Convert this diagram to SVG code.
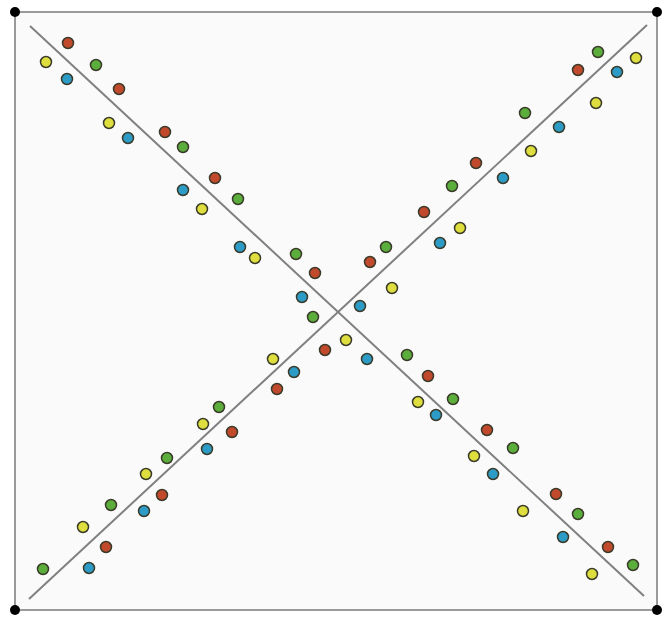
<svg xmlns="http://www.w3.org/2000/svg" width="664" height="622" viewBox="0 0 664 622">
<style>
.frame{fill:#fafafa;stroke:#9a9a9a;stroke-width:2}
.diag{stroke:#808080;stroke-width:2;fill:none}
.corner{fill:#000}
.d{stroke:#3a3a2a;stroke-width:1.5}
.r{fill:#c24a2c}
.g{fill:#5cae3c}
.b{fill:#2c9cc6}
.y{fill:#dede3e}
</style>
<rect width="664" height="622" fill="#ffffff"/>
<rect class="frame" x="15" y="12" width="642" height="598"/>
<g id="diagonals">
<line class="diag" x1="30" y1="26" x2="644" y2="596"/>
<line class="diag" x1="29" y1="599" x2="647" y2="25"/>
</g>
<g id="corners">
<circle class="corner" cx="15" cy="12" r="5"/>
<circle class="corner" cx="657" cy="12" r="5"/>
<circle class="corner" cx="15" cy="610" r="5"/>
<circle class="corner" cx="657" cy="610" r="5"/>
</g>
<g id="dots">
<circle class="d y" cx="46" cy="62" r="5.5"/>
<circle class="d r" cx="68" cy="43" r="5.5"/>
<circle class="d b" cx="67" cy="79" r="5.5"/>
<circle class="d g" cx="96" cy="65" r="5.5"/>
<circle class="d r" cx="119" cy="89" r="5.5"/>
<circle class="d y" cx="109" cy="123" r="5.5"/>
<circle class="d b" cx="128" cy="138" r="5.5"/>
<circle class="d r" cx="165" cy="132" r="5.5"/>
<circle class="d g" cx="183" cy="147" r="5.5"/>
<circle class="d r" cx="215" cy="178" r="5.5"/>
<circle class="d b" cx="183" cy="190" r="5.5"/>
<circle class="d y" cx="202" cy="209" r="5.5"/>
<circle class="d g" cx="238" cy="199" r="5.5"/>
<circle class="d b" cx="240" cy="247" r="5.5"/>
<circle class="d y" cx="255" cy="258" r="5.5"/>
<circle class="d g" cx="296" cy="254" r="5.5"/>
<circle class="d r" cx="315" cy="273" r="5.5"/>
<circle class="d b" cx="302" cy="297" r="5.5"/>
<circle class="d g" cx="313" cy="317" r="5.5"/>

<circle class="d r" cx="370" cy="262" r="5.5"/>
<circle class="d g" cx="386" cy="247" r="5.5"/>
<circle class="d y" cx="392" cy="288" r="5.5"/>
<circle class="d b" cx="360" cy="306" r="5.5"/>
<circle class="d r" cx="424" cy="212" r="5.5"/>
<circle class="d b" cx="440" cy="243" r="5.5"/>
<circle class="d y" cx="460" cy="228" r="5.5"/>
<circle class="d g" cx="452" cy="186" r="5.5"/>
<circle class="d r" cx="476" cy="163" r="5.5"/>
<circle class="d b" cx="503" cy="178" r="5.5"/>
<circle class="d y" cx="531" cy="151" r="5.5"/>
<circle class="d g" cx="525" cy="113" r="5.5"/>
<circle class="d b" cx="559" cy="127" r="5.5"/>
<circle class="d y" cx="596" cy="103" r="5.5"/>
<circle class="d r" cx="578" cy="70" r="5.5"/>
<circle class="d g" cx="598" cy="52" r="5.5"/>
<circle class="d b" cx="617" cy="72" r="5.5"/>
<circle class="d y" cx="636" cy="58" r="5.5"/>

<circle class="d r" cx="325" cy="350" r="5.5"/>
<circle class="d y" cx="346" cy="340" r="5.5"/>
<circle class="d b" cx="367" cy="359" r="5.5"/>
<circle class="d b" cx="294" cy="372" r="5.5"/>
<circle class="d y" cx="273" cy="359" r="5.5"/>
<circle class="d r" cx="277" cy="389" r="5.5"/>
<circle class="d g" cx="219" cy="407" r="5.5"/>
<circle class="d y" cx="203" cy="424" r="5.5"/>
<circle class="d r" cx="232" cy="432" r="5.5"/>
<circle class="d b" cx="207" cy="449" r="5.5"/>
<circle class="d g" cx="167" cy="458" r="5.5"/>
<circle class="d y" cx="146" cy="474" r="5.5"/>
<circle class="d r" cx="162" cy="495" r="5.5"/>
<circle class="d b" cx="144" cy="511" r="5.5"/>
<circle class="d g" cx="111" cy="505" r="5.5"/>
<circle class="d y" cx="83" cy="527" r="5.5"/>
<circle class="d r" cx="106" cy="547" r="5.5"/>
<circle class="d b" cx="89" cy="568" r="5.5"/>
<circle class="d g" cx="43" cy="569" r="5.5"/>

<circle class="d g" cx="407" cy="355" r="5.5"/>
<circle class="d r" cx="428" cy="376" r="5.5"/>
<circle class="d g" cx="453" cy="399" r="5.5"/>
<circle class="d y" cx="418" cy="402" r="5.5"/>
<circle class="d b" cx="436" cy="415" r="5.5"/>
<circle class="d r" cx="487" cy="430" r="5.5"/>
<circle class="d g" cx="513" cy="448" r="5.5"/>
<circle class="d y" cx="474" cy="456" r="5.5"/>
<circle class="d b" cx="493" cy="474" r="5.5"/>
<circle class="d r" cx="556" cy="494" r="5.5"/>
<circle class="d g" cx="578" cy="514" r="5.5"/>
<circle class="d y" cx="523" cy="511" r="5.5"/>
<circle class="d b" cx="563" cy="537" r="5.5"/>
<circle class="d r" cx="608" cy="547" r="5.5"/>
<circle class="d g" cx="633" cy="565" r="5.5"/>
<circle class="d y" cx="592" cy="574" r="5.5"/>
</g>
</svg>
